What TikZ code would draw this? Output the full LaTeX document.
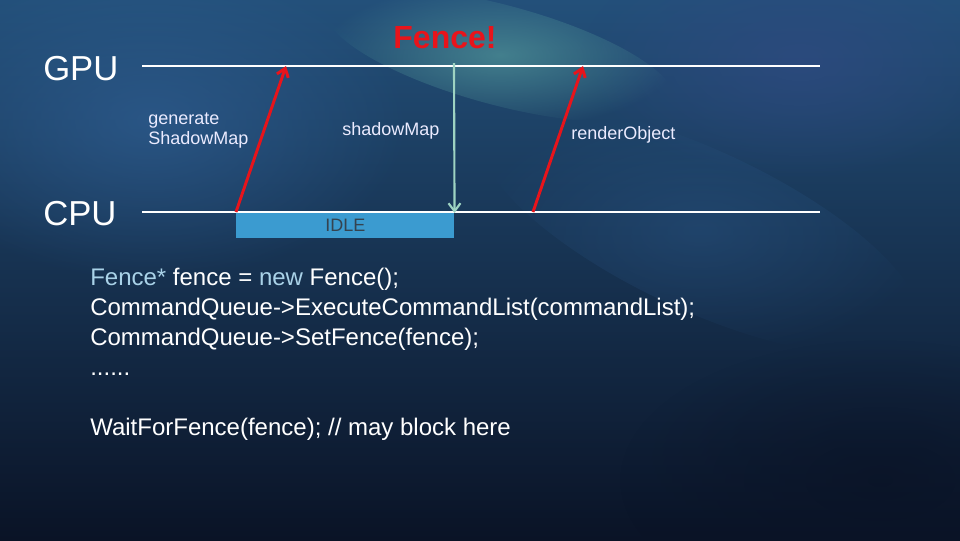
\documentclass[tikz,border=0pt]{standalone}
\usepackage{fontspec}
\setmainfont{Liberation Sans}
\usetikzlibrary{positioning, arrows.meta, fadings}
\definecolor{spacetop}{HTML}{23507A}
\definecolor{spacebot}{HTML}{0A1326}
\definecolor{nebulateal}{HTML}{5AA3A0}
\definecolor{nebulablue}{HTML}{2F5E92}
\definecolor{nebulapurple}{HTML}{2E4A80}
\definecolor{fencered}{HTML}{E8141B}
\definecolor{syncgreen}{HTML}{9ED3C2}
\definecolor{idleblue}{HTML}{3B9BD0}
\definecolor{idletext}{HTML}{35434F}
\definecolor{keywordblue}{HTML}{A9D2E8}
\tikzfading[name=glowfade, inner color=transparent!0,
            outer color=transparent!100]

\begin{document}
\begin{tikzpicture}[
    x=0.75pt, y=-0.75pt,
    lane/.style={draw=white, line width=1.6pt},
    lanelabel/.style={font=\fontsize{26}{30}\selectfont, text=white,
                      anchor=base west, inner sep=0pt},
    call/.style={-{Straight Barb[length=6pt, width=9pt]}, draw=fencered,
                 line width=2.2pt},
    signal/.style={-{Straight Barb[length=6pt, width=9pt]}, draw=syncgreen,
                   line width=1.6pt},
    note/.style={font=\fontsize{13.5}{15}\selectfont, text=white!92!blue,
                 align=left, anchor=base west, inner sep=0pt},
    idlebox/.style={fill=idleblue, minimum width=163.5pt,
                    minimum height=18.75pt, inner sep=0pt,
                    font=\fontsize{13.5}{15}\selectfont, text=idletext},
    codeline/.style={font=\fontsize{18}{22.5}\selectfont, text=white,
                     align=left, anchor=north west, inner sep=0pt},
]
\useasboundingbox (0,0) rectangle (960,540);

% === Background ===
\shade[top color=spacetop, bottom color=spacebot] (0,0) rectangle (960,540);
\fill[nebulablue, path fading=glowfade, opacity=0.7]
  (150,120) ellipse (260 and 160);
\fill[nebulapurple, path fading=glowfade, opacity=0.8]
  (800,60) ellipse (220 and 120);
\fill[nebulateal, path fading=glowfade, opacity=0.6, rotate around={-15:(500,55)}]
  (500,55) ellipse (180 and 50);
\fill[nebulablue, path fading=glowfade, opacity=0.35, rotate around={-25:(700,230)}]
  (700,230) ellipse (240 and 80);
\fill[spacebot, path fading=glowfade, opacity=0.7]
  (880,480) ellipse (260 and 140);

% === Lanes ===
\node[lanelabel] (gpu) at (43,80) {GPU};
\node[lanelabel] (cpu) at (43,225) {CPU};
\coordinate (gpuL) at (142,66);
\coordinate (gpuR) at (820,66);
\coordinate (cpuL) at (142,212);
\coordinate (cpuR) at (820,212);
\draw[lane] (gpuL) -- (gpuR);
\draw[lane] (cpuL) -- (cpuR);

% === Idle period ===
\node[idlebox, anchor=north west] (idle) at (236,213) {IDLE};

% === Submissions and fence ===
\coordinate (shadowStart) at (236,212);
\coordinate (shadowEnd)   at (286,66);
\coordinate (fenceTop)    at (454,63);
\coordinate (renderStart) at (533,212);
\coordinate (renderEnd)   at (583,66);
\draw[call] (shadowStart) -- (shadowEnd);
\draw[signal] (fenceTop) -- (idle.north east);
\draw[call] (renderStart) -- (renderEnd);

\node[font=\bfseries\fontsize{24}{28}\selectfont, text=fencered,
      anchor=base, inner sep=0pt] (fence) at (445,48) {Fence!};

% === Labels ===
\node[note] (genlabel) at (148,144) {generate\\ShadowMap};
\node[note] (maplabel) at (342,135) {shadowMap};
\node[note] (renderlabel) at (571,139) {renderObject};

% === Code ===
\node[codeline] (code) at (90,268) {%
  \textcolor{keywordblue}{Fence*} fence = \textcolor{keywordblue}{new} Fence();\\
  CommandQueue->ExecuteCommandList(commandList);\\
  CommandQueue->SetFence(fence);\\
  ......\\[22.5pt]
  WaitForFence(fence); // may block here};

\end{tikzpicture}
\end{document}
